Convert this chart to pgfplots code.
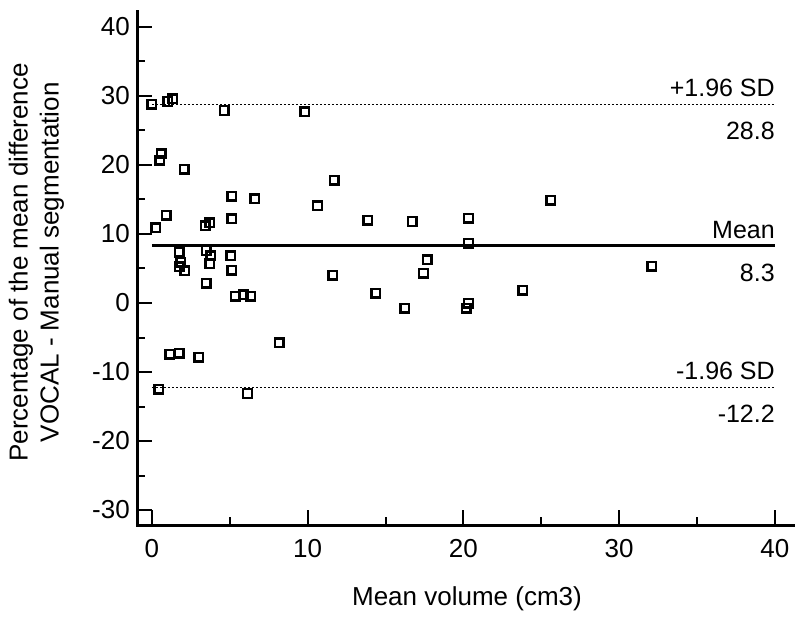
\documentclass[border=0pt]{standalone}
\usepackage{fontspec}
\setmainfont{Liberation Sans}
\usepackage{pgfplots}
\pgfplotsset{compat=1.18}

\pgfplotstableread{
x y
0.00 28.8
1.03 29.2
1.35 29.6
4.63 27.9
9.82 27.7
0.60 21.6
0.50 20.7
2.06 19.4
11.70 17.8
5.12 15.5
6.60 15.1
0.92 12.75
0.24 10.9
5.12 12.2
3.41 11.2
3.71 11.65
1.74 7.35
3.49 7.6
3.79 6.86
5.06 6.86
1.85 5.9
1.74 5.27
2.12 4.64
3.71 5.7
5.12 4.78
3.49 2.85
5.34 1.0
5.87 1.16
6.35 1.0
8.17 -5.75
1.14 -7.4
1.74 -7.3
3.02 -7.87
0.45 -12.5
6.13 -13.1
10.63 14.1
13.85 11.97
16.70 11.8
20.32 12.27
20.32 8.65
17.66 6.28
17.44 4.3
11.60 4.0
14.38 1.4
16.23 -0.77
20.32 -0.05
20.17 -0.77
25.60 14.9
32.10 5.36
23.80 1.88
}\points

\begin{document}
\begin{tikzpicture}
\begin{axis}[
    at={(137pt,-525pt)}, anchor=south west,
    scale only axis, width=656pt, height=513pt,
    xmin=-0.96, xmax=41.16, ymin=-32.17, ymax=42.17,
    axis lines*=left,
    axis line style={line width=3pt, line cap=rect},
    tick align=inside,
    major tick length=15pt, minor tick length=8pt,
    every tick/.style={black, line width=2pt},
    xtick={0,10,20,30,40},
    ytick={-30,-20,-10,0,10,20,30,40},
    yticklabels={-30,-20,-10,0,10,20,30,40},
    xticklabels={0,10,20,30,40},
    minor x tick num=1, minor y tick num=1,
    tick label style={font=\fontsize{26}{30}\selectfont},
    xticklabel style={yshift=-11pt},
    yticklabel style={inner sep=0pt, xshift=-7pt},
    label style={font=\fontsize{26}{31}\selectfont},
    xlabel={Mean volume (cm3)},
    xlabel style={at={(axis description cs:0.503,-0.156)}, anchor=base},
    ylabel={Percentage of the mean difference\\VOCAL - Manual segmentation},
    ylabel style={at={(axis description cs:-0.1532,0.512)}, anchor=center, align=center},
    clip=false,
]
% limits of agreement and mean
\addplot[black, line width=1.2pt, dash pattern=on 2.5pt off 1.5pt] coordinates {(0,28.8) (40,28.8)};
\addplot[black, line width=3pt] coordinates {(0,8.3) (40,8.3)};
\addplot[black, line width=1.2pt, dash pattern=on 2.5pt off 1.5pt] coordinates {(0,-12.2) (40,-12.2)};

\addplot[only marks, mark=square, mark size=4.3pt, mark options={black, line width=2.4pt}] table {\points};

\begin{scope}[every node/.style={font=\fontsize{25}{29}\selectfont, inner sep=0pt}]
\node[anchor=south east, yshift=7pt] at (axis cs:40,28.8) {+1.96 SD};
\node[anchor=north east, yshift=-18pt] at (axis cs:40,28.8) {28.8};
\node[anchor=south east, yshift=7pt] at (axis cs:40,8.3) {Mean};
\node[anchor=north east, yshift=-18pt] at (axis cs:40,8.3) {8.3};
\node[anchor=south east, yshift=7pt] at (axis cs:40,-12.2) {-1.96 SD};
\node[anchor=north east, yshift=-18pt] at (axis cs:40,-12.2) {-12.2};
\end{scope}
\end{axis}
\pgfresetboundingbox
\path (0,0) rectangle (800pt,-620pt);
\end{tikzpicture}
\end{document}
